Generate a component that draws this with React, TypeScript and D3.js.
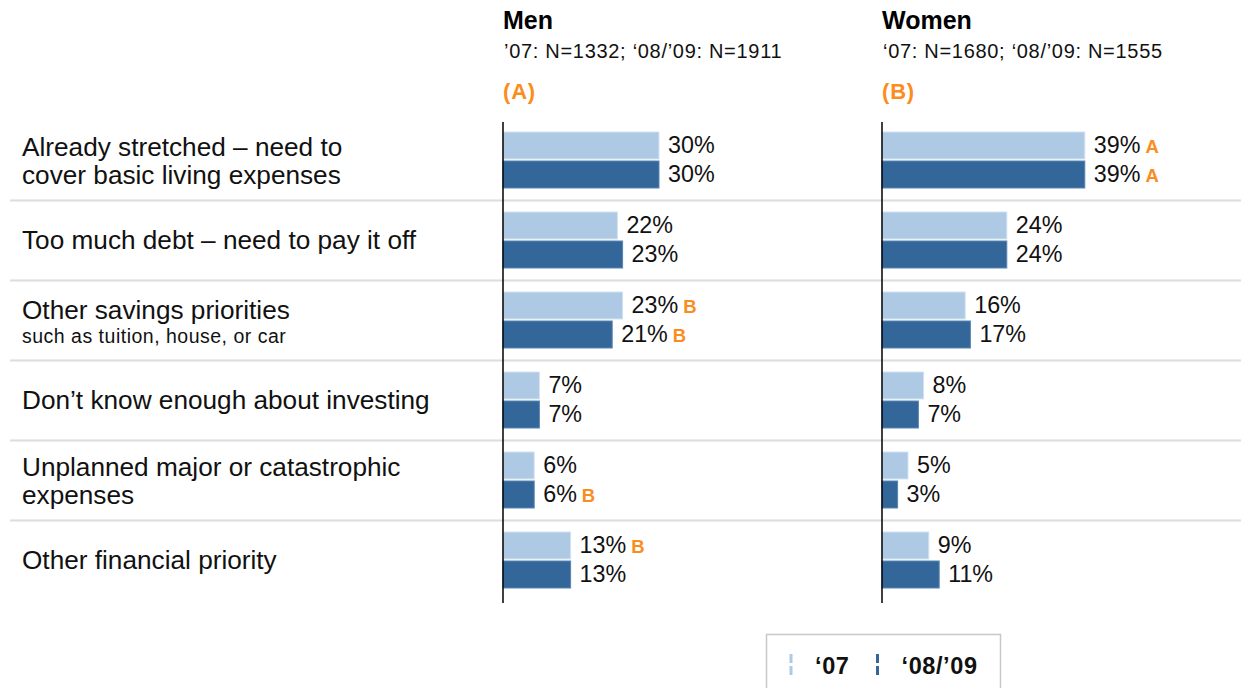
import React from "react";
import * as d3 from "d3";

const categories = [
  "Already stretched – need to|cover basic living expenses",
  "Too much debt – need to pay it off",
  "Other savings priorities",
  "Don’t know enough about investing",
  "Unplanned major or catastrophic|expenses",
  "Other financial priority",
];
const subLabels = ["", "", "such as tuition, house, or car", "", "", ""];
const series = ["‘07", "‘08/’09"];
const menValues07 = [30, 22, 23, 7, 6, 13];
const menValues0809 = [30, 23, 21, 7, 6, 13];
const womenValues07 = [39, 24, 16, 8, 5, 9];
const womenValues0809 = [39, 24, 17, 7, 3, 11];
const menMarks07 = ["", "", "B", "", "", "B"];
const menMarks0809 = ["", "", "B", "", "B", ""];
const womenMarks07 = ["A", "", "", "", "", ""];
const womenMarks0809 = ["A", "", "", "", "", ""];
const panelTitles = ["Men", "Women"];
const panelSubtitles = ["’07: N=1332; ‘08/’09: N=1911", "‘07: N=1680; ‘08/’09: N=1555"];
const panelLetters = ["(A)", "(B)"];

const LIGHT = "#adc9e4";
const DARK = "#336699";
const ORANGE = "#fb8c1e";
const FONT = "'Liberation Sans', Arial, Helvetica, sans-serif";

export default function App() {
  const W = 1241;
  const H = 688;
  const rowY = d3.scaleBand<number>().domain(d3.range(categories.length)).range([120.5, 600.5]).padding(0);
  const inner = d3.scaleBand<string>().domain(series).range([11.5, 67.5]).paddingInner(0.07);
  const x = d3.scaleLinear().domain([0, 100]).range([0, 520]);
  const panelX = [503, 882];
  const panels = [
    { v: [menValues07, menValues0809], m: [menMarks07, menMarks0809] },
    { v: [womenValues07, womenValues0809], m: [womenMarks07, womenMarks0809] },
  ];
  const colors = [LIGHT, DARK];
  const labelSize = 26.2;

  return (
    <svg width={W} height={H} style={{ position: "absolute", left: 0, top: 0, fontFamily: FONT }}>
      <rect width={W} height={H} fill="#fff" />
      {categories.slice(0, -1).map((_, i) => {
        const y = (rowY(i) as number) + rowY.bandwidth();
        return <line key={"s" + i} x1={10} x2={W} y1={y} y2={y} stroke="#dcdcdc" strokeWidth={2} />;
      })}
      {categories.map((c, i) => {
        const cy = (rowY(i) as number) + rowY.bandwidth() / 2;
        const lines = c.split("|");
        if (subLabels[i]) {
          return (
            <g key={"l" + i}>
              <text x={22} y={cy - 1.5} fontSize={labelSize} fill="#111">{lines[0]}</text>
              <text x={22} y={cy + 22} fontSize={19.5} letterSpacing={0.5} fill="#111">{subLabels[i]}</text>
            </g>
          );
        }
        if (lines.length === 2) {
          return (
            <g key={"l" + i}>
              <text x={22} y={cy - 5} fontSize={labelSize} fill="#111">{lines[0]}</text>
              <text x={22} y={cy + 23} fontSize={labelSize} fill="#111">{lines[1]}</text>
            </g>
          );
        }
        return (
          <text key={"l" + i} x={22} y={cy + 8.5} fontSize={labelSize} fill="#111">{lines[0]}</text>
        );
      })}
      {panels.map((p, pi) => (
        <g key={"p" + pi} transform={`translate(${panelX[pi]},0)`}>
          <text x={0} y={29} fontSize={25} fontWeight="bold" fill="#000">{panelTitles[pi]}</text>
          <text x={1} y={58} fontSize={20} letterSpacing={0.7} fill="#111">{panelSubtitles[pi]}</text>
          <text x={0} y={99} fontSize={22} fontWeight="bold" fill={ORANGE} letterSpacing={0.8}>{panelLetters[pi]}</text>
          {categories.map((_, i) =>
            series.map((s, si) => {
              const v = p.v[si][i];
              const y0 = (rowY(i) as number) + (inner(s) as number);
              const bw = inner.bandwidth();
              return (
                <g key={`b${i}-${si}`}>
                  <rect x={0} y={y0} width={x(v)} height={bw} fill={colors[si]} stroke={si === 0 ? "#d3e2f1" : "#5a86b3"} strokeWidth={1} />
                  <text x={x(v) + 9} y={y0 + bw / 2 + 7.5} fontSize={23.3} fill="#111">
                    {v + "%"}
                    {p.m[si][i] ? (
                      <tspan dx={5} fontSize={18.5} fontWeight="bold" fill={ORANGE}>{p.m[si][i]}</tspan>
                    ) : null}
                  </text>
                </g>
              );
            })
          )}
          <line x1={0} x2={0} y1={122} y2={603} stroke="#000" strokeWidth={1.5} />
        </g>
      ))}
      <rect x={766.5} y={634.5} width={234} height={70} fill="#fff" stroke="#c8c8c8" strokeWidth={1.5} />
      {series.map((s, si) => {
        const lx = [791, 877.5][si];
        return (
          <g key={"lg" + si}>
            <line x1={lx} x2={lx} y1={654} y2={677} stroke={colors[si]} strokeWidth={3} strokeDasharray="9,3" />
            <text x={lx + 24} y={674} fontSize={23.5} fontWeight="bold" letterSpacing={0.6} fill="#111">{s}</text>
          </g>
        );
      })}
    </svg>
  );
}
